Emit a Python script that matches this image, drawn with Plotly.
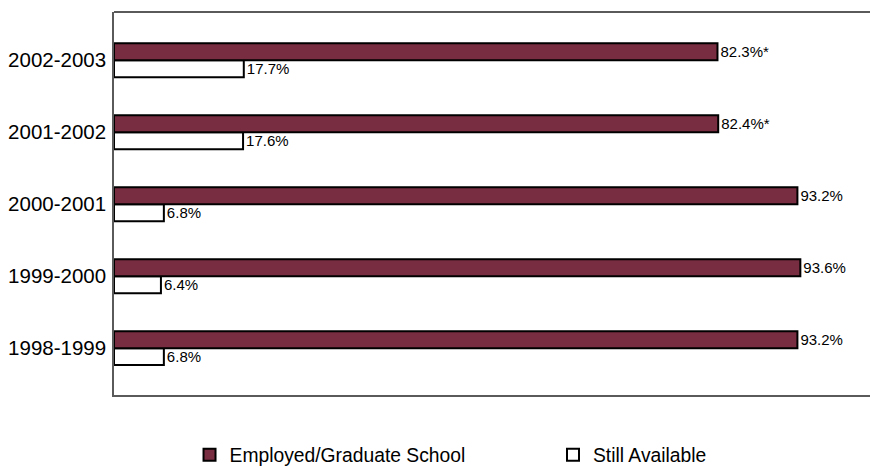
import plotly.graph_objects as go

# Academic years, listed bottom to top
years = ["1998-1999", "1999-2000", "2000-2001", "2001-2002", "2002-2003"]
employed = [93.2, 93.6, 93.2, 82.4, 82.3]
still_available = [6.8, 6.4, 6.8, 17.6, 17.7]
employed_notes = ["", "", "", "*", "*"]

maroon = "#782D40"
frame_color = "#5a5a5a"
font_family = "Liberation Sans, Arial, sans-serif"

fig = go.Figure()

# First trace sits lowest within each group
fig.add_trace(go.Bar(
    name="Still Available",
    legend="legend2",
    y=years,
    x=still_available,
    orientation="h",
    marker=dict(color="white", line=dict(color="black", width=2)),
    text=[f"{v}%" for v in still_available],
    textposition="outside",
    constraintext="none",
    cliponaxis=False,
    textfont=dict(size=15, color="black", family=font_family),
    hoverinfo="skip",
))
fig.add_trace(go.Bar(
    name="Employed/Graduate School",
    legend="legend",
    y=years,
    x=employed,
    orientation="h",
    marker=dict(color=maroon, line=dict(color="black", width=2)),
    text=[f"{v}%{n}" for v, n in zip(employed, employed_notes)],
    textposition="outside",
    constraintext="none",
    cliponaxis=False,
    textfont=dict(size=15, color="black", family=font_family),
    hoverinfo="skip",
))

legend_style = dict(
    orientation="h",
    xanchor="left",
    yanchor="middle",
    y=-0.157,
    font=dict(size=19.3, color="black", family=font_family),
    bgcolor="rgba(0,0,0,0)",
)

fig.update_layout(
    width=870,
    height=466,
    margin=dict(l=114, r=0, t=12, b=71, autoexpand=False),
    paper_bgcolor="white",
    plot_bgcolor="white",
    barmode="group",
    bargap=0.53,
    bargroupgap=0,
    font=dict(family=font_family, color="black"),
    showlegend=True,
    legend=dict(x=0.0999, **legend_style),
    legend2=dict(x=0.5807, **legend_style),
    xaxis=dict(
        range=[0, 103.1],
        showgrid=False,
        zeroline=False,
        showticklabels=False,
        ticks="",
        showline=True,
        linecolor=frame_color,
        linewidth=2,
    ),
    yaxis=dict(
        range=[-0.65, 4.67],
        showgrid=False,
        zeroline=False,
        showline=True,
        linecolor=frame_color,
        linewidth=1.5,
        ticks="",
        ticklabelstandoff=2,
        tickfont=dict(size=20.5, color="black", family=font_family),
    ),
    # top edge of the frame (no right edge)
    shapes=[dict(
        type="line", xref="paper", yref="paper",
        x0=0, x1=1, y0=1, y1=1,
        line=dict(color=frame_color, width=2),
    )],
)

fig.write_html("out.html")
